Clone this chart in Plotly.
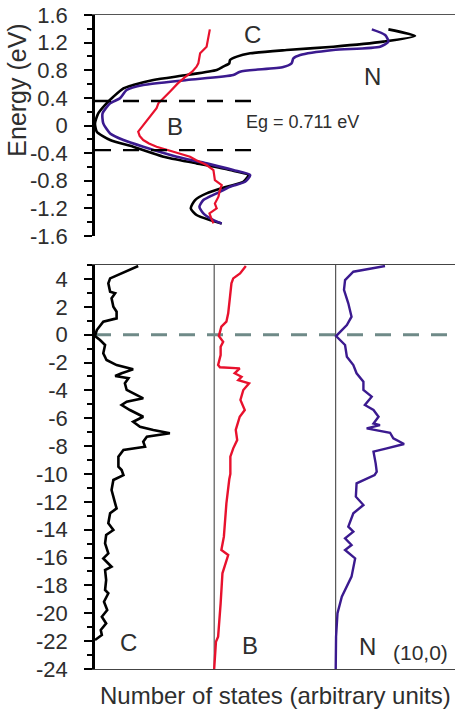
import plotly.graph_objects as go

# ---------------- Upper panel: DOS near the gap (energy in eV) ----------------
c_top_energy = [1.392, 1.296, 1.214, 1.141, 1.093, 1.045, 0.997, 0.948, 0.900, 0.852, 0.804,
                0.731, 0.659, 0.586, 0.538, 0.417, 0.321, 0.176, 0.031, -0.089, -0.210,
                -0.307, -0.451, -0.548, -0.645, -0.717, -0.814, -0.886, -0.982, -1.079,
                -1.200, -1.296, -1.369, -1.417]
c_top_dos = [81.5, 88.9, 80.1, 66.2, 53.2, 43.1, 39.4, 37.5, 37.3, 35.6, 33.8,
             25.5, 16.2, 10.6, 7.9, 5.1, 3.2, 0.9, 0.0, 0.5, 4.2,
             10.6, 19.0, 28.2, 37.5, 42.6, 41.2, 36.6, 31.0, 27.8,
             26.6, 28.2, 31.9, 35.2]

n_top_energy = [1.392, 1.310, 1.214, 1.141, 1.093, 1.021, 0.972, 0.900, 0.847, 0.780,
                0.731, 0.659, 0.586, 0.514, 0.393, 0.321, 0.176, 0.031, -0.114, -0.210,
                -0.307, -0.451, -0.548, -0.645, -0.717, -0.814, -0.886, -0.982, -1.079,
                -1.176, -1.272, -1.369, -1.417]
n_top_dos = [76.9, 80.6, 81.5, 79.2, 66.2, 57.0, 55.1, 54.6, 52.3, 40.3,
             38.4, 25.5, 13.4, 8.8, 6.9, 4.2, 2.1, 2.3, 4.2, 7.9,
             13.4, 22.7, 31.0, 38.4, 43.1, 41.7, 37.5, 33.8, 30.1,
             29.0, 30.1, 32.9, 35.2]

b_top_energy = [1.392, 1.300, 1.141, 1.045, 0.900, 0.852, 0.780, 0.700, 0.610, 0.490,
                0.393, 0.321, 0.250, 0.176, 0.100, 0.031, -0.089, -0.150, -0.210, -0.260,
                -0.307, -0.380, -0.451, -0.500, -0.572, -0.645, -0.717, -0.790, -0.862,
                -0.935, -1.030, -1.130, -1.200, -1.272, -1.330, -1.417]
b_top_dos = [31.9, 31.5, 31.0, 29.2, 28.7, 28.2, 27.0, 25.0, 23.0, 20.8,
             19.0, 17.6, 17.1, 16.0, 14.8, 13.9, 12.0, 12.4, 13.4, 15.0,
             17.1, 21.8, 26.4, 28.0, 31.0, 32.9, 33.0, 33.3, 35.2,
             34.7, 34.3, 33.3, 33.8, 31.8, 32.2, 32.9]

band_gap = 0.711

# ---------------- Lower panel: full valence range ----------------
c_energy = [4.93, 4.04, 3.69, 3.08, 2.97, 2.61, 2.01, 1.65, 1.17, 0.93, 0.33, -0.10,
            -0.38, -0.74, -1.34, -1.82, -2.18, -2.49, -2.77, -2.97, -3.13, -3.49, -3.97,
            -4.57, -4.81, -5.05, -5.41, -5.89, -6.25, -6.61, -6.84, -7.08, -7.33, -7.68,
            -8.04, -8.28, -8.76, -9.48, -9.72, -10.08, -10.43, -11.15, -12.11, -12.47,
            -12.82, -13.54, -14.02, -14.38, -14.98, -15.70, -16.06, -16.66, -16.90,
            -17.61, -18.33, -18.57, -19.17, -19.77, -20.25, -20.73, -21.20, -21.56, -21.92]
c_dos = [12.0, 4.2, 3.7, 4.2, 5.6, 4.6, 5.1, 6.0, 6.0, 2.3, 0.5, 0.0,
         1.4, 2.8, 2.3, 3.2, 6.0, 10.6, 7.4, 5.6, 9.3, 8.3, 8.8,
         13.4, 8.8, 7.4, 9.7, 13.4, 10.6, 12.5, 16.2, 20.8, 14.4, 13.4,
         13.9, 7.9, 6.5, 6.5, 7.4, 7.9, 5.1, 4.6, 5.6, 6.0,
         4.2, 3.7, 5.1, 3.1, 2.8, 3.7, 2.3, 4.6, 2.8,
         3.1, 2.8, 3.7, 2.5, 3.4, 1.9, 3.1, 1.6, 1.9, 0.0]

b_energy = [4.93, 4.40, 4.04, 3.69, 2.72, 1.53, 0.93, 0.57, -0.10, -0.51, -0.87, -1.46,
            -2.18, -2.34, -2.42, -2.77, -3.02, -3.26, -3.49, -3.97, -4.69, -5.41, -5.89,
            -6.84, -7.56, -8.16, -8.76, -10.00, -10.38, -12.11, -14.50, -15.46, -15.82,
            -17.13, -19.29, -21.68, -22.04, -24.00]
b_dos = [8.8, 7.2, 5.3, 4.8, 4.4, 3.9, 3.4, 2.0, 1.3, 2.5, 1.8, 1.8,
         1.1, 1.6, 7.1, 5.7, 7.6, 6.7, 9.7, 8.1, 7.3, 8.5, 7.1,
         6.0, 6.4, 5.3, 4.5, 4.5, 4.2, 3.4, 2.7, 2.0, 3.9,
         2.3, 1.8, 1.1, 0.5, 0.0]

n_energy = [4.93, 4.52, 3.92, 3.21, 2.25, 1.29, 0.69, -0.10, -0.74, -1.58, -2.18, -2.77,
            -3.37, -3.97, -4.45, -5.05, -5.41, -5.89, -6.37, -6.49, -6.73, -7.04, -7.44,
            -7.85, -8.16, -8.40, -9.24, -9.84, -10.08, -10.67, -11.63, -12.23, -12.82,
            -13.78, -14.14, -14.62, -15.10, -15.46, -16.06, -17.37, -18.81, -20.00,
            -21.68, -24.00]
n_dos = [13.7, 4.9, 2.6, 2.3, 3.5, 4.4, 3.1, 0.1, 2.6, 3.1, 4.9, 5.8,
         7.7, 7.7, 10.0, 8.1, 10.5, 11.9, 10.5, 12.3, 8.6, 15.1, 16.0,
         19.0, 14.2, 10.5, 11.1, 11.4, 10.8, 5.8, 5.6, 7.7, 4.9,
         3.5, 4.9, 2.6, 4.4, 2.6, 5.4, 4.4, 1.7, 0.5,
         0.1, 0.0]

top_tickvals = [1.6, 1.2, 0.8, 0.4, 0, -0.4, -0.8, -1.2, -1.6]
top_ticktext = ["1.6", "1.2", "0.8", "0.4", "0", "-0.4", "-0.8", "-1.2", "-1.6"]
bottom_tickvals = list(range(4, -25, -2))
bottom_ticktext = [str(v) for v in bottom_tickvals]

# column baselines of the three stacked DOS curves in the lower panel
B_COLUMN = 33.1
N_COLUMN = 66.86

BLACK = "#000000"
RED = "#e8112d"
PURPLE = "#3b1a8f"
GAP_DASH = "#6f8a88"
TEXT = "#2e2e2e"
FONT = "Liberation Sans, Arial, sans-serif"

fig = go.Figure()

# upper panel curves
fig.add_trace(go.Scatter(x=c_top_dos, y=c_top_energy, mode="lines",
                         line=dict(color=BLACK, width=2.6, shape="spline", smoothing=0.6),
                         xaxis="x", yaxis="y"))
fig.add_trace(go.Scatter(x=n_top_dos, y=n_top_energy, mode="lines",
                         line=dict(color=PURPLE, width=2.6, shape="spline", smoothing=0.6),
                         xaxis="x", yaxis="y"))
fig.add_trace(go.Scatter(x=b_top_dos, y=b_top_energy, mode="lines",
                         line=dict(color=RED, width=2.2),
                         xaxis="x", yaxis="y"))

# band edges
for edge in (band_gap / 2, -band_gap / 2):
    fig.add_trace(go.Scatter(x=[0, 44.4], y=[edge, edge], mode="lines",
                             line=dict(color=BLACK, width=2.4, dash="16px,12px"),
                             xaxis="x", yaxis="y"))

# lower panel: Fermi level
fig.add_trace(go.Scatter(x=[0, 100], y=[0, 0], mode="lines",
                         line=dict(color=GAP_DASH, width=3, dash="16px,12px"),
                         xaxis="x2", yaxis="y2"))

# lower panel curves
fig.add_trace(go.Scatter(x=c_dos, y=c_energy, mode="lines",
                         line=dict(color=BLACK, width=2.6), xaxis="x2", yaxis="y2"))
fig.add_trace(go.Scatter(x=[B_COLUMN + v for v in b_dos], y=b_energy, mode="lines",
                         line=dict(color=RED, width=2.4), xaxis="x2", yaxis="y2"))
fig.add_trace(go.Scatter(x=[N_COLUMN + v for v in n_dos], y=n_energy, mode="lines",
                         line=dict(color=PURPLE, width=2.4), xaxis="x2", yaxis="y2"))

# column separators
for col in (B_COLUMN, N_COLUMN):
    fig.add_shape(type="line", xref="x2", yref="y2 domain", x0=col, x1=col, y0=0, y1=1,
                  line=dict(color="#333333", width=1), layer="below")

yaxis_common = dict(
    showline=True, linecolor=BLACK, linewidth=2.5,
    ticks="outside", ticklen=8, tickwidth=2.2, tickcolor=BLACK,
    tickfont=dict(family=FONT, size=22, color=TEXT),
    showgrid=False, zeroline=False, ticklabelstandoff=12,
)

fig.update_layout(
    width=455, height=710,
    margin=dict(l=95, r=0, t=15, b=41),
    paper_bgcolor="white", plot_bgcolor="white",
    showlegend=False,
    xaxis=dict(domain=[0, 1], range=[0, 100], anchor="y", side="top",
               showline=True, linecolor="#555555", linewidth=1,
               showticklabels=False, ticks="", showgrid=False, zeroline=False),
    yaxis=dict(domain=[0.662, 1.0], range=[-1.6, 1.6], anchor="x",
               tickmode="array", tickvals=top_tickvals, ticktext=top_ticktext,
               minor=dict(tickmode="linear", tick0=0, dtick=0.2, ticks="outside",
                          ticklen=5, tickwidth=2, tickcolor=BLACK),
               **yaxis_common),
    xaxis2=dict(domain=[0, 1], range=[0, 100], anchor="y2",
                showline=True, mirror=True, linecolor="#444444", linewidth=1,
                showticklabels=False, ticks="", showgrid=False, zeroline=False),
    yaxis2=dict(domain=[0, 0.6177], range=[-24, 5], anchor="x2",
                tickmode="array", tickvals=bottom_tickvals, ticktext=bottom_ticktext,
                minor=dict(tickmode="linear", tick0=0, dtick=1, ticks="outside",
                           ticklen=5, tickwidth=2, tickcolor=BLACK),
                **yaxis_common),
)

label_font = dict(family=FONT, size=24, color=TEXT)
labels = [
    ("x", "y", 43.75, 1.325, "C", label_font),
    ("x", "y", 77.1, 0.707, "N", label_font),
    ("x", "y", 22.1, -0.017, "B", label_font),
    ("x", "y", 57.5, 0.05, "Eg = 0.711 eV", dict(family=FONT, size=18, color=TEXT)),
    ("x2", "y2", 9.4, -22.1, "C", label_font),
    ("x2", "y2", 43.1, -22.3, "B", label_font),
    ("x2", "y2", 75.8, -22.4, "N", label_font),
    ("x2", "y2", 90.3, -22.85, "(10,0)", dict(family=FONT, size=21, color=TEXT)),
]
for xr, yr, x, y, text, font in labels:
    fig.add_annotation(xref=xr, yref=yr, x=x, y=y, text=text, showarrow=False,
                       font=font, xanchor="center", yanchor="middle")

fig.add_annotation(xref="paper", yref="paper", x=-0.2153, y=0.885, text="Energy (eV)",
                   textangle=-90, showarrow=False,
                   font=dict(family=FONT, size=25, color=TEXT),
                   xanchor="center", yanchor="middle")
fig.add_annotation(xref="paper", yref="paper", x=0.5, y=-0.0398,
                   text="Number of states (arbitrary units)", showarrow=False,
                   font=dict(family=FONT, size=24, color=TEXT),
                   xanchor="center", yanchor="middle")

fig.write_html("out.html")
